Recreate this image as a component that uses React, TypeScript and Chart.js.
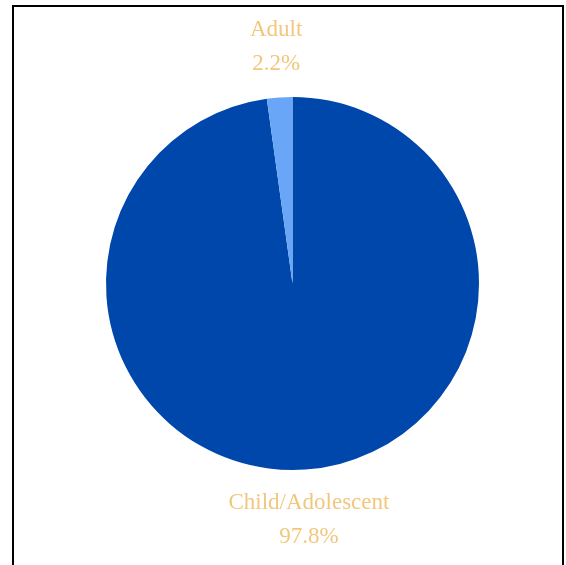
import React, { useEffect, useRef } from "react";
import { Chart, registerables } from "chart.js";

Chart.register(...registerables);

const categories = ["Child/Adolescent", "Adult"];
const values = [97.8, 2.2];
const sliceColors = ["#0047ab", "#6aa6f7"];
const labelColor = "#f2c77d";

const outsideLabels = {
  id: "outsideLabels",
  afterDatasetsDraw(chart: any) {
    const ctx = chart.ctx;
    const meta = chart.getDatasetMeta(0);
    const data = chart.data.datasets[0].data as number[];
    const total = data.reduce((a: number, b: number) => a + b, 0);
    ctx.save();
    ctx.fillStyle = labelColor;
    ctx.font = "23px 'Liberation Serif', serif";
    ctx.textAlign = "center";
    ctx.textBaseline = "middle";
    meta.data.forEach((arc: any, i: number) => {
      const p = arc.getProps(["x", "y", "startAngle", "endAngle", "outerRadius"], true);
      const mid = (p.startAngle + p.endAngle) / 2;
      const r = p.outerRadius + 51;
      const cx = p.x + Math.cos(mid) * r;
      const cy = p.y + Math.sin(mid) * r;
      const pct = ((data[i] / total) * 100).toFixed(1) + "%";
      ctx.fillText(chart.data.labels[i], cx, cy - 17);
      ctx.fillText(pct, cx, cy + 17);
    });
    ctx.restore();
  },
};

export default function App() {
  const ref = useRef<HTMLCanvasElement | null>(null);
  useEffect(() => {
    if (!ref.current) return;
    const chart = new Chart(ref.current, {
      type: "pie",
      data: {
        labels: categories,
        datasets: [
          {
            data: values,
            backgroundColor: sliceColors,
            borderWidth: 0,
          },
        ],
      },
      options: {
        responsive: false,
        animation: false,
        layout: { padding: { top: 90, bottom: 117, left: 20, right: 11 } },
        plugins: {
          legend: { display: false },
          tooltip: { enabled: false },
        },
      },
      plugins: [outsideLabels],
    });
    return () => chart.destroy();
  }, []);
  return (
    <div
      style={{
        position: "fixed",
        left: 12,
        top: 5,
        width: 548,
        height: 580,
        border: "2px solid #000",
        background: "#fff",
      }}
    >
      <canvas ref={ref} width={548} height={580} style={{ width: 548, height: 580, display: "block" }} />
    </div>
  );
}
